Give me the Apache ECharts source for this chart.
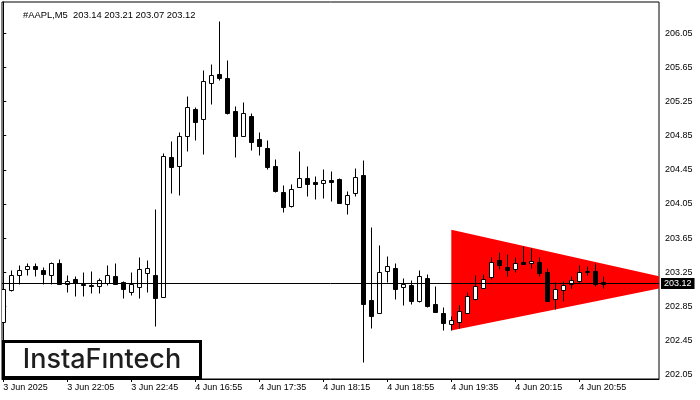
<!DOCTYPE html>
<html>
<head>
<meta charset="utf-8">
<script src="https://cdn.jsdelivr.net/npm/echarts@6/dist/echarts.min.js"></script>
<style>html,body{margin:0;padding:0;background:#fff}#c{width:700px;height:400px}</style>
</head>
<body>
<div id="c"></div>
<script>
// ---- data (5-minute bars, AAPL) ----
const opens  = [202.67,203.04,203.22,203.29,203.33,203.28,203.22,203.36,203.11,203.17,203.12,203.10,203.09,203.13,203.21,203.14,203.02,203.08,203.24,203.22,202.96,204.60,204.49,204.85,205.16,205.04,205.46,205.57,205.52,205.14,204.85,205.08,204.81,204.70,204.49,204.19,204.03,204.25,204.36,204.31,204.29,204.33,204.34,204.05,204.18,204.39,202.93,202.77,203.27,203.30,203.08,203.10,202.92,203.19,202.88,202.78,202.65,202.67,202.78,202.94,203.07,203.20,203.40,203.31,203.29,203.37,203.36,203.37,203.25,202.94,203.04,203.11,203.15,203.25,203.27,203.14];
const highs  = [203.07,203.28,203.34,203.36,203.36,203.31,203.37,203.41,203.22,203.21,203.26,203.27,203.18,203.34,203.36,203.15,203.25,203.43,203.40,203.99,204.65,204.79,204.89,205.31,205.18,205.62,205.69,206.19,205.73,205.20,205.24,205.12,204.89,204.80,204.58,204.27,204.28,204.67,204.49,204.38,204.46,204.44,204.35,204.20,204.47,204.56,203.78,203.57,203.44,203.36,203.18,203.16,203.28,203.23,203.09,202.84,202.74,202.87,203.02,203.22,203.23,203.43,203.49,203.47,203.43,203.56,203.53,203.43,203.30,203.14,203.15,203.21,203.34,203.32,203.36,203.21];
const lows   = [202.54,203.03,203.11,203.22,203.21,203.11,203.12,203.12,203.02,202.97,202.97,203.01,203.01,203.10,203.12,202.95,202.98,202.95,203.02,202.62,202.96,204.18,204.16,204.67,204.80,204.63,205.22,205.50,205.10,204.60,204.84,204.68,204.62,204.46,204.19,203.96,204.01,204.25,204.14,204.11,204.12,204.08,204.06,203.93,204.14,202.20,202.60,202.77,203.14,202.94,202.87,202.88,202.90,202.85,202.79,202.58,202.58,202.60,202.78,202.93,203.07,203.17,203.29,203.21,203.25,203.35,203.30,203.21,202.91,202.82,202.92,203.07,203.13,203.22,203.09,203.07];
const closes = [203.06,203.22,203.28,203.32,203.29,203.23,203.36,203.12,203.15,203.13,203.10,203.09,203.16,203.22,203.12,203.05,203.12,203.29,203.30,202.95,204.61,204.48,204.85,205.18,205.01,205.49,205.56,205.52,205.12,204.84,205.11,204.77,204.73,204.48,204.20,204.02,204.23,204.36,204.28,204.28,204.33,204.31,204.06,204.16,204.37,202.88,202.74,203.25,203.32,203.05,203.11,202.91,203.21,202.86,202.79,202.66,202.69,202.80,202.97,203.09,203.17,203.37,203.34,203.28,203.36,203.35,203.38,203.24,202.92,203.06,203.10,203.16,203.26,203.27,203.12,203.12];

const xTickBars   = [0, 8, 16, 24, 32, 40, 48, 56, 64, 72];
const xTickLabels = ['3 Jun 2025','3 Jun 22:05','3 Jun 22:45','4 Jun 16:55','4 Jun 17:35','4 Jun 18:15','4 Jun 18:55','4 Jun 19:35','4 Jun 20:15','4 Jun 20:55'];
const yTicks = [202.05,202.45,202.85,203.25,203.65,204.05,204.45,204.85,205.25,205.65,206.05];

// pennant (bearish) pattern: start bar, apex bar; upper / lower prices
const patternBars  = [56, 85.5];
const patternUpper = [203.75, 203.13];
const patternLower = [202.57, 203.13];

const symbolName = '#AAPL,M5';
const lastBar = opens.length - 1;
const lastPrice = closes[lastBar];

const FONT = 'Liberation Sans';

const candleData = opens.map((o, i) => [i, o, closes[i], lows[i], highs[i]]);

const chart = echarts.init(document.getElementById('c'), null, {renderer: 'canvas'});

function candleItem(params, api) {
  const i = api.value(0), o = api.value(1), c = api.value(2), l = api.value(3), h = api.value(4);
  const pO = api.coord([i, o]), pC = api.coord([i, c]), pL = api.coord([i, l]), pH = api.coord([i, h]);
  const x = Math.round(pO[0]) + 0.5;
  const top = Math.round(Math.min(pO[1], pC[1])) + 0.5;
  const bot = Math.round(Math.max(pO[1], pC[1])) + 0.5;
  const up = c >= o;
  return {
    type: 'group',
    children: [
      {type: 'line', shape: {x1: x, y1: Math.round(pH[1]) + 0.5, x2: x, y2: Math.round(pL[1]) + 0.5},
       style: {stroke: '#000', lineWidth: 1}},
      {type: 'rect', shape: {x: x - 2, y: top, width: 4, height: Math.max(bot - top, 0)},
       style: {fill: up ? '#fff' : '#000', stroke: '#000', lineWidth: 1}}
    ]
  };
}

function patternItem(params, api) {
  const a = api.coord([patternBars[0], patternUpper[0]]);
  const b = api.coord([patternBars[1], patternUpper[1]]);
  const c = api.coord([patternBars[0], patternLower[0]]);
  const d = api.coord([patternBars[1], patternLower[1]]);
  return {type: 'polygon', shape: {points: [a, b, d, c]}, style: {fill: '#ff0000'}};
}

chart.setOption({
  animation: false,
  backgroundColor: '#fff',
  title: {
    text: symbolName + '  ' + [opens[lastBar], highs[lastBar], lows[lastBar], closes[lastBar]].map(v => v.toFixed(2)).join(' '),
    left: 18, top: 6,
    textStyle: {fontFamily: FONT, fontSize: 9.4, fontWeight: 'normal', color: '#000'}
  },
  grid: {left: 2, top: 2, right: 41, bottom: 21, show: true, borderColor: '#000', borderWidth: 1, backgroundColor: 'transparent'},
  xAxis: {
    type: 'value', min: -0.16, max: 81.96,
    splitLine: {show: false},
    axisLine: {show: true, lineStyle: {color: '#000'}},
    axisTick: {show: true, length: 3, customValues: xTickBars, lineStyle: {color: '#000'}},
    axisLabel: {
      show: true, customValues: xTickBars, align: 'left', margin: 4,
      fontFamily: FONT, fontSize: 9, color: '#000',
      formatter: v => xTickLabels[xTickBars.indexOf(Math.round(v))] || ''
    }
  },
  yAxis: {
    type: 'value', position: 'right', min: 202.003, max: 206.413, scale: true,
    splitLine: {show: false},
    axisLine: {show: true, lineStyle: {color: '#000'}},
    axisTick: {show: true, length: 3, customValues: yTicks, lineStyle: {color: '#000'}},
    axisLabel: {
      show: true, customValues: yTicks, margin: 6,
      fontFamily: FONT, fontSize: 9, color: '#000',
      formatter: v => v.toFixed(2)
    }
  },
  series: [
    {
      type: 'custom', name: 'pattern', z: 1, clip: true, silent: true,
      data: [[patternBars[0], patternUpper[0]]],
      renderItem: patternItem
    },
    {
      type: 'line', name: 'price', z: 2, data: [], silent: true,
      markLine: {
        silent: true, symbol: ['none', 'none'], animation: false,
        lineStyle: {color: '#000', width: 1, type: 'solid'},
        label: {
          show: true, position: 'end', distance: 2,
          formatter: () => lastPrice.toFixed(2),
          color: '#fff', backgroundColor: '#000', padding: [1, 3, 1, 3],
          fontFamily: FONT, fontSize: 9
        },
        data: [{yAxis: lastPrice}]
      }
    },
    {
      type: 'custom', name: 'AAPL', z: 3, clip: true, silent: true,
      encode: {x: 0, y: [1, 2, 3, 4]},
      data: candleData,
      renderItem: candleItem
    }
  ],
  graphic: [
    {type: 'rect', z: 100, shape: {x: 3.5, y: 341.5, width: 197, height: 36},
     style: {fill: '#fff', stroke: '#000', lineWidth: 3}},
    {type: 'text', z: 101, x: 102, y: 360,
     style: {text: 'InstaF\u0131ntech', fontFamily: 'Inter', fontSize: 27, fontWeight: 500, fill: '#1e1e1e', align: 'center', verticalAlign: 'middle'}}
  ]
});
</script>
</body>
</html>
